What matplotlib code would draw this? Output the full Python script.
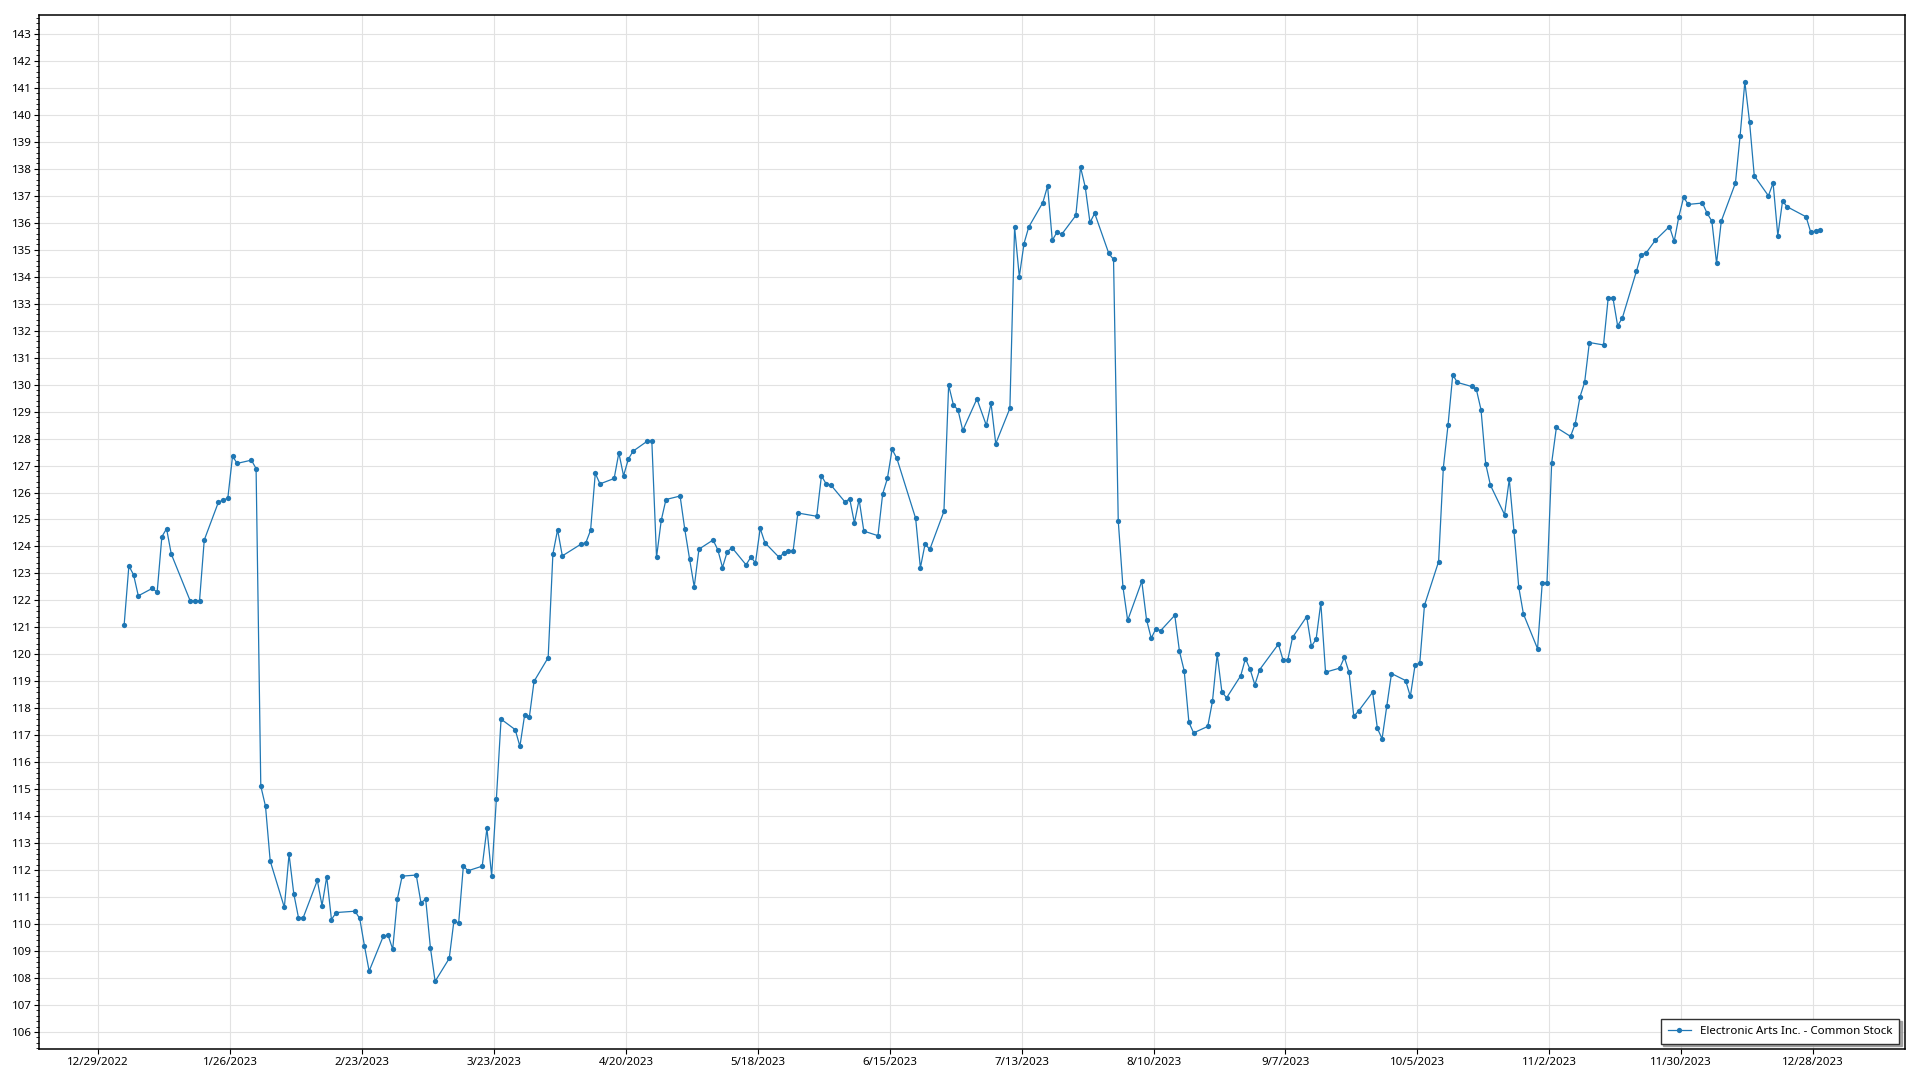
import numpy as np
import pandas as pd
import matplotlib
matplotlib.use("Agg")
import matplotlib.pyplot as plt
from matplotlib.ticker import MultipleLocator

# --- closing prices, one list per month ---
jan = [121.10, 123.28, 122.95, 122.17, 122.45, 122.30, 124.36, 124.66, 123.72,
       121.99, 121.99, 121.99, 124.24, 125.64, 125.72, 125.79, 127.34, 127.08,
       127.20, 126.89]
feb = [115.12, 114.37, 112.34, 110.62, 112.59, 111.13, 110.24, 110.24, 111.62,
       110.69, 111.76, 110.17, 110.43, 110.48, 110.21, 109.20, 108.26, 109.55,
       109.60]
mar = [109.07, 110.94, 111.78, 111.82, 110.79, 110.93, 109.13, 107.88, 108.73,
       110.13, 110.04, 112.16, 111.98, 112.15, 113.55, 111.79, 114.63, 117.60,
       117.21, 116.59, 117.75, 117.67, 119.00]
apr = [119.88, 123.72, 124.62, 123.65, 124.09, 124.14, 124.60, 126.71, 126.32,
       126.52, 127.47, 126.62, 127.23, 127.53, 127.90, 127.91, 123.60, 124.97,
       125.74]
may = [125.87, 124.63, 123.55, 122.50, 123.90, 124.24, 123.88, 123.22, 123.80,
       123.96, 123.32, 123.60, 123.40, 124.67, 124.14, 123.60, 123.75, 123.85,
       123.85, 125.24, 125.12, 126.62]
jun = [126.32, 126.28, 125.65, 125.77, 124.87, 125.74, 124.57, 124.40, 125.95,
       126.52, 127.60, 127.27, 125.04, 123.21, 124.09, 123.89, 125.30, 129.98,
       129.26, 129.05, 128.30]
jul = [129.47, 128.49, 129.31, 127.81, 129.12, 135.84, 134.00, 135.23, 135.84,
       136.75, 137.36, 135.35, 135.65, 135.57, 136.27, 138.06, 137.32, 136.01,
       136.35, 134.86]
aug = [134.64, 124.95, 122.50, 121.26, 122.71, 121.29, 120.60, 120.95, 120.88,
       121.45, 120.11, 119.39, 117.48, 117.09, 117.33, 118.26, 120.01, 118.61,
       118.39, 119.21, 119.84, 119.44, 118.87]
sep = [119.43, 120.38, 119.78, 119.81, 120.63, 121.40, 120.30, 120.56, 121.91,
       119.34, 119.49, 119.89, 119.33, 117.70, 117.90, 118.60, 117.26, 116.87,
       118.07, 119.29]
oct_ = [119.03, 118.44, 119.60, 119.68, 121.82, 123.44, 126.91, 128.50, 130.36,
        130.08, 129.93, 129.83, 129.07, 127.06, 126.27, 125.18, 126.49, 124.57,
        122.51, 121.50, 120.21, 122.66]
nov = [122.66, 127.10, 128.41, 128.08, 128.55, 129.54, 130.09, 131.56, 131.47,
       133.22, 133.22, 132.18, 132.47, 134.21, 134.82, 134.87, 135.35, 135.86,
       135.31, 136.23, 136.94]
dec = [136.68, 136.73, 136.35, 136.06, 134.50, 136.06, 137.47, 139.23, 141.22,
       139.74, 137.74, 137.00, 137.47, 135.52, 136.80, 136.59, 136.22, 135.64,
       135.69, 135.74]

# NYSE holidays 2023 (weekdays with no trading)
feriados = ["2023-01-02", "2023-01-16", "2023-02-20", "2023-04-07", "2023-05-29",
            "2023-06-19", "2023-07-04", "2023-09-04", "2023-11-23", "2023-12-25"]

serie_nome = "Electronic Arts Inc. - Common Stock"

# =====================================================================
precos = np.array(jan + feb + mar + apr + may + jun + jul + aug + sep + oct_ + nov + dec)
dias = pd.bdate_range("2023-01-03", "2023-12-29")
dias = dias[~dias.isin(pd.to_datetime(feriados))]
dias = dias + pd.Timedelta(hours=12)  # timestamps at midday
assert len(dias) == len(precos)

plt.rcParams['font.family'] = ['Noto Sans', 'DejaVu Sans']

fig = plt.figure(figsize=(19.2, 10.8), dpi=100)
ax = fig.add_axes([0.0205, 0.0284, 0.9717, 0.9577])

cor = '#1f77b4'
ax.plot(dias, precos, color=cor, linewidth=0.9, marker='o', markersize=3.8,
        markeredgewidth=0, label=serie_nome)

# eixos
inicio_ticks = pd.Timestamp("2022-12-29")
ticks = [inicio_ticks + pd.Timedelta(days=28 * i) for i in range(14)]
ax.set_xticks(ticks)
ax.set_xticklabels([f"{t.month}/{t.day}/{t.year}" for t in ticks])
ax.set_xlim(pd.Timestamp("2022-12-29") - pd.Timedelta(days=12.5),
            pd.Timestamp("2023-12-28") + pd.Timedelta(days=19.5))

ax.set_ylim(105.36, 143.70)
ax.yaxis.set_major_locator(MultipleLocator(1))
ax.yaxis.set_minor_locator(MultipleLocator(0.2))

ax.grid(True, which='major', color='#e2e2e2', linewidth=0.8)
ax.set_axisbelow(True)

for s in ax.spines.values():
    s.set_color('black')
    s.set_linewidth(1.1)

ax.tick_params(axis='both', which='major', length=3.5, width=0.8, labelsize=8.3,
               colors='black', pad=2)
ax.tick_params(axis='y', which='minor', length=2, width=0.6)

leg = ax.legend(loc='lower right', fontsize=8.3, frameon=True, fancybox=False,
                shadow={'color': '#909090', 'alpha': 0.8}, borderaxespad=0.5,
                handlelength=2.0, borderpad=0.6)
leg.get_frame().set_edgecolor('#333333')
leg.get_frame().set_linewidth(1.0)

fig.savefig("out.png", dpi=100)
